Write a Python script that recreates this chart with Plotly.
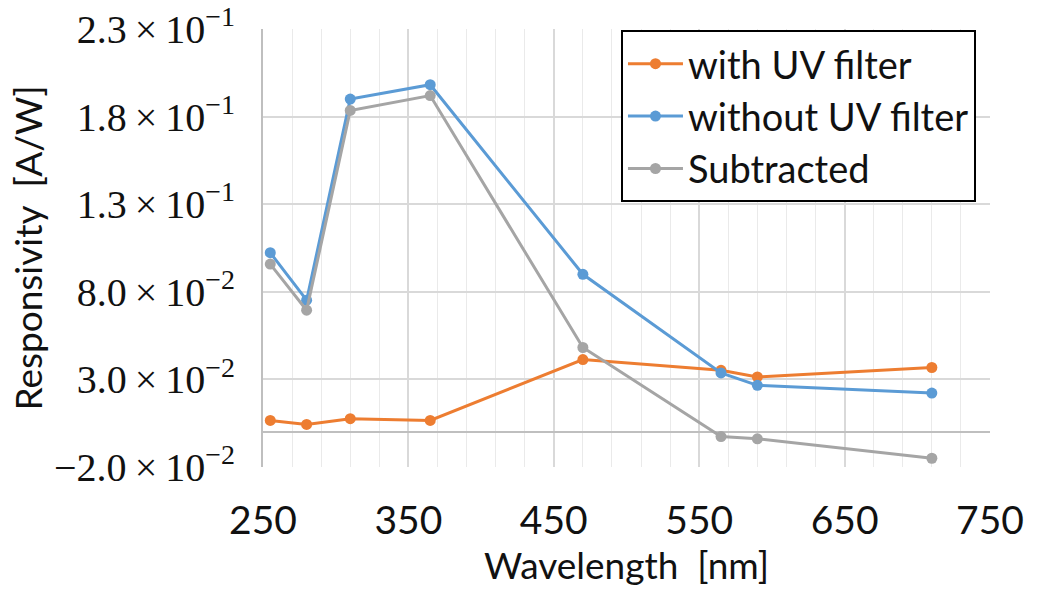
import plotly.graph_objects as go

# Wavelengths of the LED sources [nm]
wavelength = [255, 280, 310, 365, 470, 565, 590, 710]

# Measured responsivity [A/W]
with_uv_filter = [0.0066, 0.0043, 0.0076, 0.0066, 0.0413, 0.0352, 0.0314, 0.0368]
without_uv_filter = [0.1023, 0.0752, 0.1900, 0.1982, 0.0900, 0.0337, 0.0266, 0.0222]
subtracted = [0.0958, 0.0695, 0.1835, 0.1920, 0.0482, -0.0026, -0.0039, -0.0150]

series_names = ["with UV filter", "without UV filter", "Subtracted"]
series_colors = ["#ED7D31", "#5B9BD5", "#A5A5A5"]

# Y-axis ticks in scientific notation
y_tickvals = [-0.02, 0.03, 0.08, 0.13, 0.18, 0.23]
y_ticktext = [
    "\u22122.0\u2009\u00d7\u200910<sup>\u22122</sup>",
    "3.0\u2009\u00d7\u200910<sup>\u22122</sup>",
    "8.0\u2009\u00d7\u200910<sup>\u22122</sup>",
    "1.3\u2009\u00d7\u200910<sup>\u22121</sup>",
    "1.8\u2009\u00d7\u200910<sup>\u22121</sup>",
    "2.3\u2009\u00d7\u200910<sup>\u22121</sup>",
]

sans = "Lato, 'Open Sans', sans-serif"
serif = "'Liberation Serif', 'DejaVu Serif', serif"
text_color = "#111111"

fig = go.Figure()
for i, (name, vals, color) in enumerate(
    zip(series_names, [with_uv_filter, without_uv_filter, subtracted], series_colors)
):
    fig.add_trace(
        go.Scatter(
            x=wavelength,
            y=vals,
            name=name,
            legendgroup=f"g{i}",
            mode="lines+markers",
            line=dict(color=color, width=3),
            marker=dict(color=color, size=11),
        )
    )

fig.update_layout(
    width=1038,
    height=590,
    margin=dict(l=263, r=48, t=29, b=123),
    paper_bgcolor="white",
    plot_bgcolor="white",
    showlegend=True,
    legend=dict(
        x=0.4924,
        y=0.9966,
        xanchor="left",
        yanchor="top",
        bgcolor="white",
        bordercolor="black",
        borderwidth=2,
        font=dict(family=sans, size=38, color=text_color),
        tracegroupgap=0,
        itemwidth=55,
    ),
    xaxis=dict(
        range=[250, 750],
        tick0=250,
        dtick=100,
        showgrid=True,
        gridcolor="#D9D9D9",
        gridwidth=1.5,
        minor=dict(dtick=20, tick0=250, showgrid=True, gridcolor="#EAEAEA", gridwidth=1),
        zeroline=False,
        showline=False,
        ticks="",
        ticklabelstandoff=27,
        tickfont=dict(family=sans, size=39, color=text_color),
        title=dict(text="Wavelength  [nm]", font=dict(family=sans, size=37, color=text_color), standoff=12),
        automargin=False,
    ),
    yaxis=dict(
        range=[-0.02, 0.23],
        tickvals=y_tickvals,
        ticktext=y_ticktext,
        showgrid=True,
        gridcolor="#D9D9D9",
        gridwidth=1.5,
        zeroline=True,
        zerolinecolor="#BFBFBF",
        zerolinewidth=2,
        showline=True,
        linecolor="#BFBFBF",
        linewidth=2,
        ticks="",
        ticklabelstandoff=18,
        tickfont=dict(family=serif, size=40, color=text_color),
        title=dict(text="Responsivity  [A/W]", font=dict(family=sans, size=37, color=text_color), standoff=0),
        automargin=False,
    ),
)

fig.write_html("out.html")
